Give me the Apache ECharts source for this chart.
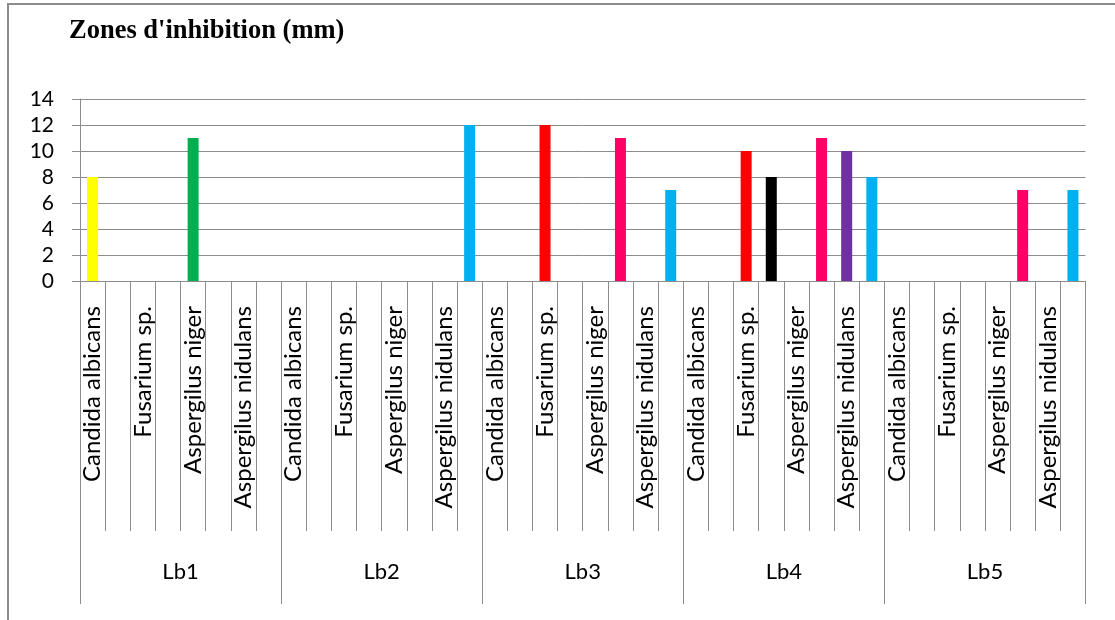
<!DOCTYPE html>
<html>
<head>
<meta charset="utf-8">
<script src="https://cdn.jsdelivr.net/npm/echarts@6/dist/echarts.min.js"></script>
<style>
  html, body { margin: 0; padding: 0; background: #fff; }
  #chart { width: 1115px; height: 620px; }
</style>
</head>
<body>
<div id="chart"></div>
<script>
// Inhibition zone diameters (mm) per extract (Lb1..Lb5) and per test slot.
const groups = ['Lb1', 'Lb2', 'Lb3', 'Lb4', 'Lb5'];
const slotLabels = ['Candida albicans', '', 'Fusarium sp.', '', 'Aspergilus niger', '', 'Aspergilus nidulans', ''];
const lb1 = [8, null, null, null, 11, null, null, null];
const lb2 = [null, null, null, null, null, null, null, 12];
const lb3 = [null, null, 12, null, null, 11, null, 7];
const lb4 = [null, null, 10, 8, null, 11, 10, 8];
const lb5 = [null, null, null, null, null, 7, null, 7];
const yTicks = { min: 0, max: 14, step: 2 };

// Fill colour used for each slot position inside a group
const slotColors = ['#FFFF00', '#FFC000', '#FF0000', '#000000', '#00B050', '#FF0066', '#7030A0', '#00B0F0'];

const groupValues = [lb1, lb2, lb3, lb4, lb5];
const categories = [];
const barData = [];
groupValues.forEach(function (vals) {
  vals.forEach(function (v, s) {
    categories.push(slotLabels[s]);
    barData.push({ value: v, itemStyle: { color: slotColors[s] } });
  });
});

const GRAY = '#8c8c8c';
const FONT = 'Lato';

const chart = echarts.init(document.getElementById('chart'), null, { renderer: 'canvas' });
chart.setOption({
  animation: false,
  backgroundColor: '#ffffff',
  title: {
    text: "Zones d'inhibition (mm)",
    left: 64,
    top: 13,
    textStyle: { fontFamily: 'Liberation Serif', fontWeight: 'bold', fontSize: 26.5, color: '#000' }
  },
  graphic: [{
    type: 'rect',
    silent: true,
    shape: { x: 8, y: 4, width: 1200, height: 700 },
    style: { fill: 'none', stroke: GRAY, lineWidth: 2 }
  }],
  grid: {
    left: 80,
    right: 29.5,
    top: 99,
    bottom: 339,
    containLabel: false,
    outerBoundsMode: 'none'
  },
  xAxis: [{
    type: 'category',
    data: categories,
    position: 'bottom',
    boundaryGap: true,
    axisLine: { show: true, lineStyle: { color: GRAY, width: 1 } },
    axisTick: { show: true, interval: 0, length: 250, lineStyle: { color: GRAY, width: 1 } },
    axisLabel: {
      interval: 0, rotate: 90, margin: 25,
      fontFamily: FONT, fontSize: 24, color: '#000'
    },
    splitLine: { show: false }
  }, {
    type: 'category',
    data: groups,
    position: 'bottom',
    boundaryGap: true,
    axisLine: { show: false },
    axisTick: { show: true, interval: 0, length: 323, lineStyle: { color: GRAY, width: 1 } },
    axisLabel: {
      interval: 0, margin: 280,
      fontFamily: FONT, fontSize: 22, color: '#000'
    },
    splitLine: { show: false }
  }],
  yAxis: {
    type: 'value',
    min: yTicks.min,
    max: yTicks.max,
    interval: yTicks.step,
    axisLine: { show: true, lineStyle: { color: GRAY, width: 1 } },
    axisTick: { show: true, length: 8, lineStyle: { color: GRAY, width: 1 } },
    axisLabel: { margin: 26, fontFamily: FONT, fontSize: 21, color: '#000' },
    splitLine: { show: true, lineStyle: { color: GRAY, width: 1 } }
  },
  series: [{
    type: 'bar',
    xAxisIndex: 0,
    barWidth: 11,
    data: barData
  }]
});
</script>
</body>
</html>
